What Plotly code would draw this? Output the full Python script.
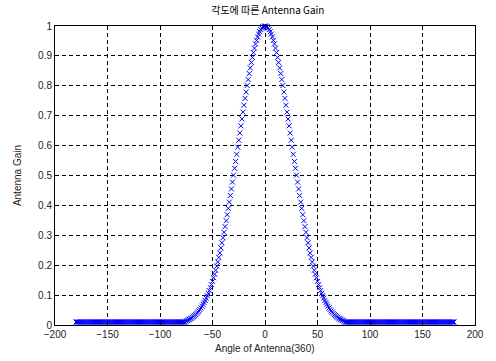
import plotly.graph_objects as go

# Angle of antenna in degrees (-180 .. 180, 1 degree step)
angles = list(range(-180, 181))

# Antenna gain (one value per degree)
gain_left_tail = [  # -180 .. -76
    0.01, 0.01, 0.01, 0.01, 0.01, 0.01, 0.01, 0.01, 0.01, 0.01, 0.01, 0.01, 0.01, 0.01, 0.01,
    0.01, 0.01, 0.01, 0.01, 0.01, 0.01, 0.01, 0.01, 0.01, 0.01, 0.01, 0.01, 0.01, 0.01, 0.01,
    0.01, 0.01, 0.01, 0.01, 0.01, 0.01, 0.01, 0.01, 0.01, 0.01, 0.01, 0.01, 0.01, 0.01, 0.01,
    0.01, 0.01, 0.01, 0.01, 0.01, 0.01, 0.01, 0.01, 0.01, 0.01, 0.01, 0.01, 0.01, 0.01, 0.01,
    0.01, 0.01, 0.01, 0.01, 0.01, 0.01, 0.01, 0.01, 0.01, 0.01, 0.01, 0.01, 0.01, 0.01, 0.01,
    0.01, 0.01, 0.01, 0.01, 0.01, 0.01, 0.01, 0.01, 0.01, 0.01, 0.01, 0.01, 0.01, 0.01, 0.01,
    0.01, 0.01, 0.01, 0.01, 0.01, 0.01, 0.01, 0.01, 0.01, 0.01, 0.01, 0.01, 0.01, 0.01, 0.01,
]
gain_main_lobe = [  # -75 .. 75
    0.013, 0.015, 0.017, 0.019, 0.021, 0.023, 0.026, 0.029, 0.032, 0.035,
    0.039, 0.043, 0.047, 0.052, 0.057, 0.063, 0.069, 0.075, 0.082, 0.090,
    0.098, 0.106, 0.115, 0.125, 0.135, 0.146, 0.158, 0.170, 0.183, 0.197,
    0.211, 0.226, 0.241, 0.258, 0.275, 0.292, 0.310, 0.329, 0.349, 0.369,
    0.390, 0.411, 0.433, 0.455, 0.478, 0.501, 0.524, 0.547, 0.571, 0.595,
    0.618, 0.642, 0.666, 0.689, 0.712, 0.735, 0.758, 0.779, 0.801, 0.821,
    0.841, 0.860, 0.878, 0.895, 0.911, 0.926, 0.940, 0.952, 0.963, 0.973,
    0.981, 0.988, 0.993, 0.997, 0.999,
    1.000,
    0.999, 0.997, 0.993, 0.988, 0.981, 0.973, 0.963, 0.952, 0.940, 0.926,
    0.911, 0.895, 0.878, 0.860, 0.841, 0.821, 0.801, 0.779, 0.758, 0.735,
    0.712, 0.689, 0.666, 0.642, 0.618, 0.595, 0.571, 0.547, 0.524, 0.501,
    0.478, 0.455, 0.433, 0.411, 0.390, 0.369, 0.349, 0.329, 0.310, 0.292,
    0.275, 0.258, 0.241, 0.226, 0.211, 0.197, 0.183, 0.170, 0.158, 0.146,
    0.135, 0.125, 0.115, 0.106, 0.098, 0.090, 0.082, 0.075, 0.069, 0.063,
    0.057, 0.052, 0.047, 0.043, 0.039, 0.035, 0.032, 0.029, 0.026, 0.023,
    0.021, 0.019, 0.017, 0.015, 0.013,
]
gain_right_tail = [  # 76 .. 180
    0.01, 0.01, 0.01, 0.01, 0.01, 0.01, 0.01, 0.01, 0.01, 0.01, 0.01, 0.01, 0.01, 0.01, 0.01,
    0.01, 0.01, 0.01, 0.01, 0.01, 0.01, 0.01, 0.01, 0.01, 0.01, 0.01, 0.01, 0.01, 0.01, 0.01,
    0.01, 0.01, 0.01, 0.01, 0.01, 0.01, 0.01, 0.01, 0.01, 0.01, 0.01, 0.01, 0.01, 0.01, 0.01,
    0.01, 0.01, 0.01, 0.01, 0.01, 0.01, 0.01, 0.01, 0.01, 0.01, 0.01, 0.01, 0.01, 0.01, 0.01,
    0.01, 0.01, 0.01, 0.01, 0.01, 0.01, 0.01, 0.01, 0.01, 0.01, 0.01, 0.01, 0.01, 0.01, 0.01,
    0.01, 0.01, 0.01, 0.01, 0.01, 0.01, 0.01, 0.01, 0.01, 0.01, 0.01, 0.01, 0.01, 0.01, 0.01,
    0.01, 0.01, 0.01, 0.01, 0.01, 0.01, 0.01, 0.01, 0.01, 0.01, 0.01, 0.01, 0.01, 0.01, 0.01,
]
gains = gain_left_tail + gain_main_lobe + gain_right_tail

x_ticks = [-200, -150, -100, -50, 0, 50, 100, 150, 200]
y_ticks = [0, 0.1, 0.2, 0.3, 0.4, 0.5, 0.6, 0.7, 0.8, 0.9, 1]
y_tick_text = ["0", "0.1", "0.2", "0.3", "0.4", "0.5", "0.6", "0.7", "0.8", "0.9", "1"]

title_text = "각도에 따른 Antenna Gain"
x_label = "Angle of Antenna(360)"
y_label = "Antenna Gain"

fig = go.Figure()
fig.add_trace(go.Scatter(
    x=angles, y=gains, mode="markers",
    marker=dict(symbol="x-thin-open", size=5, color="#0000ff",
                line=dict(color="#0000ff", width=1)),
    cliponaxis=False, showlegend=False,
))

font_main = "Liberation Sans, Arial, sans-serif"
axis_common = dict(
    showline=True, linecolor="black", linewidth=1, mirror="ticks",
    ticks="inside", ticklen=4, tickcolor="black", tickwidth=1,
    showgrid=True, gridcolor="black", gridwidth=1, griddash="4px,3px",
    zeroline=False, tickfont=dict(family=font_main, size=10, color="#222"),
)

fig.update_layout(
    width=496, height=361,
    margin=dict(l=55, r=15, t=26, b=36),
    paper_bgcolor="white", plot_bgcolor="white",
    title=dict(text=title_text, x=0.54, xanchor="center", y=1 - 10 / 361,
               yanchor="middle", yref="container",
               font=dict(family="Noto Sans CJK KR, sans-serif", size=10, color="black")),
    xaxis=dict(range=[-200, 200], tickvals=x_ticks, **axis_common),
    yaxis=dict(range=[0, 1], tickvals=y_ticks, ticktext=y_tick_text, **axis_common),
    annotations=[
        dict(text=x_label, xref="paper", yref="paper", x=0.5, y=-0.079,
             xanchor="center", yanchor="middle", showarrow=False,
             font=dict(family=font_main, size=10, color="#222")),
        dict(text=y_label, xref="paper", yref="paper", x=-0.089, y=0.5,
             xanchor="center", yanchor="middle", showarrow=False, textangle=-90,
             font=dict(family=font_main, size=10, color="#222")),
    ],
)

fig.write_html("out.html", config={"displayModeBar": False},
               post_script="document.body.style.margin='0';")
